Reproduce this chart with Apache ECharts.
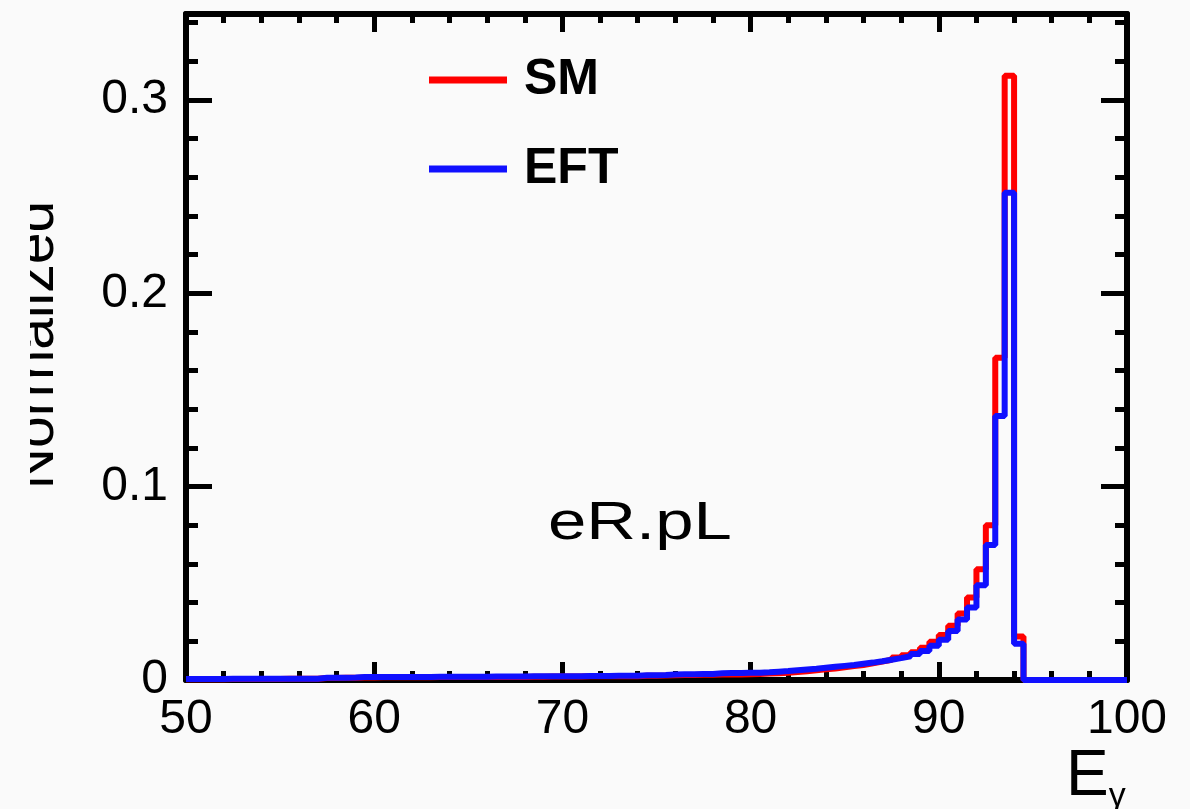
<!DOCTYPE html>
<html><head><meta charset="utf-8">
<script src="https://cdn.jsdelivr.net/npm/echarts@6/dist/echarts.min.js"></script>
<style>html,body{margin:0;padding:0;background:#fafafa}#c{width:1190px;height:809px}</style>
</head><body><div id="c"></div>
<script>
// histogram binning (E_gamma, 0.5 wide bins from 50 to 100)
const binStart = 50;
const binWidth = 0.5;
const seriesNames = ['SM', 'EFT'];
// SM (red) bin contents, normalized
const smValues = [
  0.0004,0.0004,0.0004,0.0004,0.0005,0.0005,0.0005,0.0005,0.0005,0.0005,0.0006,0.0006,0.0006,0.0006,
  0.0010,0.0010,0.0011,0.0011,
  0.0013,0.0013,0.0014,0.0014,0.0014,0.0014,0.0014,0.0014,0.0015,0.0015,0.0015,0.0015,0.0015,0.0015,0.0016,0.0016,0.0016,0.0016,
  0.0017,0.0017,0.0018,0.0018,0.0018,0.0018,0.0019,0.0019,0.0019,0.0020,0.0020,0.0020,
  0.0022,0.0022,0.0023,
  0.0025,0.0026,0.0026,0.0027,0.0027,
  0.0028,0.0029,0.0029,0.0030,
  0.0031,0.0033,0.0035,0.0038,0.0041,0.0045,0.0050,0.0055,0.0060,0.0066,0.0072,0.0078,0.0086,0.0095,
  0.0105,0.0116,0.0128,0.0143,0.0167,0.0198,0.0233,0.0281,0.0344,0.0427,0.0573,0.0800,0.1667,0.3125,0.0225,
  0,0,0,0,0,0,0,0,0,0,0
];
// EFT (blue) bin contents, normalized
const eftValues = [
  0.0005,0.0005,0.0005,0.0005,0.0006,0.0006,0.0006,0.0006,0.0006,0.0006,0.0007,0.0007,0.0007,0.0007,
  0.0012,0.0012,0.0012,0.0013,
  0.0015,0.0015,0.0016,0.0016,0.0016,0.0016,0.0016,0.0016,0.0017,0.0017,0.0017,0.0017,0.0017,0.0017,0.0018,0.0018,0.0018,0.0018,
  0.0019,0.0019,0.0020,0.0020,0.0020,0.0020,0.0021,0.0021,0.0021,0.0022,0.0022,0.0022,
  0.0025,0.0025,0.0026,
  0.0029,0.0030,0.0030,0.0031,0.0031,
  0.0035,0.0036,0.0036,0.0037,
  0.0038,0.0040,0.0043,0.0046,0.0050,0.0054,0.0058,0.0063,0.0068,0.0073,0.0078,0.0084,0.0090,0.0097,
  0.0105,0.0113,0.0123,0.0134,0.0150,0.0177,0.0208,0.0254,0.0313,0.0375,0.0490,0.0698,0.1365,0.2520,0.0188,
  0,0,0,0,0,0,0,0,0,0,0
];
const xRange = [50, 100];
const yRange = [0, 0.3445];
const xTickStep = 10;
const yTickStep = 0.1;
const annotation = 'eR.pL';
const yTitle = 'Normalized';

function toSteps(vals) {
  const pts = vals.map((v, i) => [binStart + i * binWidth, v]);
  pts.push([binStart + vals.length * binWidth, vals[vals.length - 1]]);
  return pts;
}

const FONT = 'Liberation Sans, Arial, Helvetica, sans-serif';
const BG = '#fafafa';
const chart = echarts.init(document.getElementById('c'));

const frameLine = { show: true, onZero: false, lineStyle: { color: '#000', width: 6 } };
function xAx(pos, labels) {
  return {
    type: 'value', position: pos, min: xRange[0], max: xRange[1], interval: xTickStep,
    axisLine: frameLine,
    axisTick: { show: true, inside: true, length: 18, lineStyle: { color: '#000', width: 5 } },
    minorTick: { show: true, splitNumber: 5, length: 9, lineStyle: { color: '#000', width: 5 } },
    splitLine: { show: false },
    axisLabel: { show: labels, color: '#000', fontSize: 48, fontFamily: FONT, margin: 16 }
  };
}
function yAx(pos, labels) {
  return {
    type: 'value', position: pos, min: yRange[0], max: yRange[1], interval: yTickStep,
    axisLine: frameLine,
    axisTick: { show: true, inside: true, length: 26, lineStyle: { color: '#000', width: 5 } },
    minorTick: { show: true, splitNumber: 5, length: 12, lineStyle: { color: '#000', width: 5 } },
    splitLine: { show: false },
    axisLabel: { show: labels, color: '#000', fontSize: 48, fontFamily: FONT, margin: 18,
      showMaxLabel: false, formatter: v => String(+v.toFixed(2)) }
  };
}

chart.setOption({
  backgroundColor: BG,
  animation: false,
  grid: { left: 186, right: 63, top: 14, bottom: 129 },
  xAxis: [xAx('bottom', true), xAx('top', false)],
  yAxis: [yAx('left', true), yAx('right', false)],
  legend: {
    orient: 'vertical', left: 424, top: 58, itemGap: 46, icon: 'rect',
    itemWidth: 78, itemHeight: 7, data: seriesNames,
    textStyle: { fontSize: 50, fontWeight: 'bold', fontFamily: FONT, color: '#000', lineHeight: 42, padding: [0, 0, 0, 12] }
  },
  series: [
    { name: seriesNames[0], type: 'line', step: 'end', showSymbol: false, clip: false,
      data: toSteps(smValues), color: '#ff0000', lineStyle: { width: 6, color: '#ff0000' }, z: 2 },
    { name: seriesNames[1], type: 'line', step: 'end', showSymbol: false, clip: false,
      data: toSteps(eftValues), color: '#1010ff', lineStyle: { width: 6, color: '#1010ff' }, z: 3 }
  ],
  graphic: [
    { type: 'text', x: 548, y: 498, scaleX: 1.3, z: 10,
      style: { text: annotation, fontSize: 53, fontFamily: FONT, fill: '#000', textAlign: 'left', textVerticalAlign: 'top' } },
    { type: 'text', x: 66, y: 345, rotation: Math.PI / 2, z: 10,
      style: { text: yTitle, fontSize: 57, fontFamily: FONT, fill: '#000', textAlign: 'center', textVerticalAlign: 'bottom' } },
    { type: 'rect', shape: { x: 0, y: 150, width: 30, height: 400 }, z: 11, style: { fill: BG } },
    { type: 'text', x: 1066, y: 740, z: 10,
      style: { text: '{e|E}{g|γ}', fontFamily: FONT, fill: '#000', textAlign: 'left', textVerticalAlign: 'top',
        rich: { e: { fontSize: 64, fontFamily: FONT, fill: '#000' },
                g: { fontSize: 34, fontFamily: FONT, fill: '#000', padding: [40, 0, 0, 0] } } } }
  ]
});
chart.setOption({ legend: { top: 50, itemGap: 39 } });
</script></body></html>
